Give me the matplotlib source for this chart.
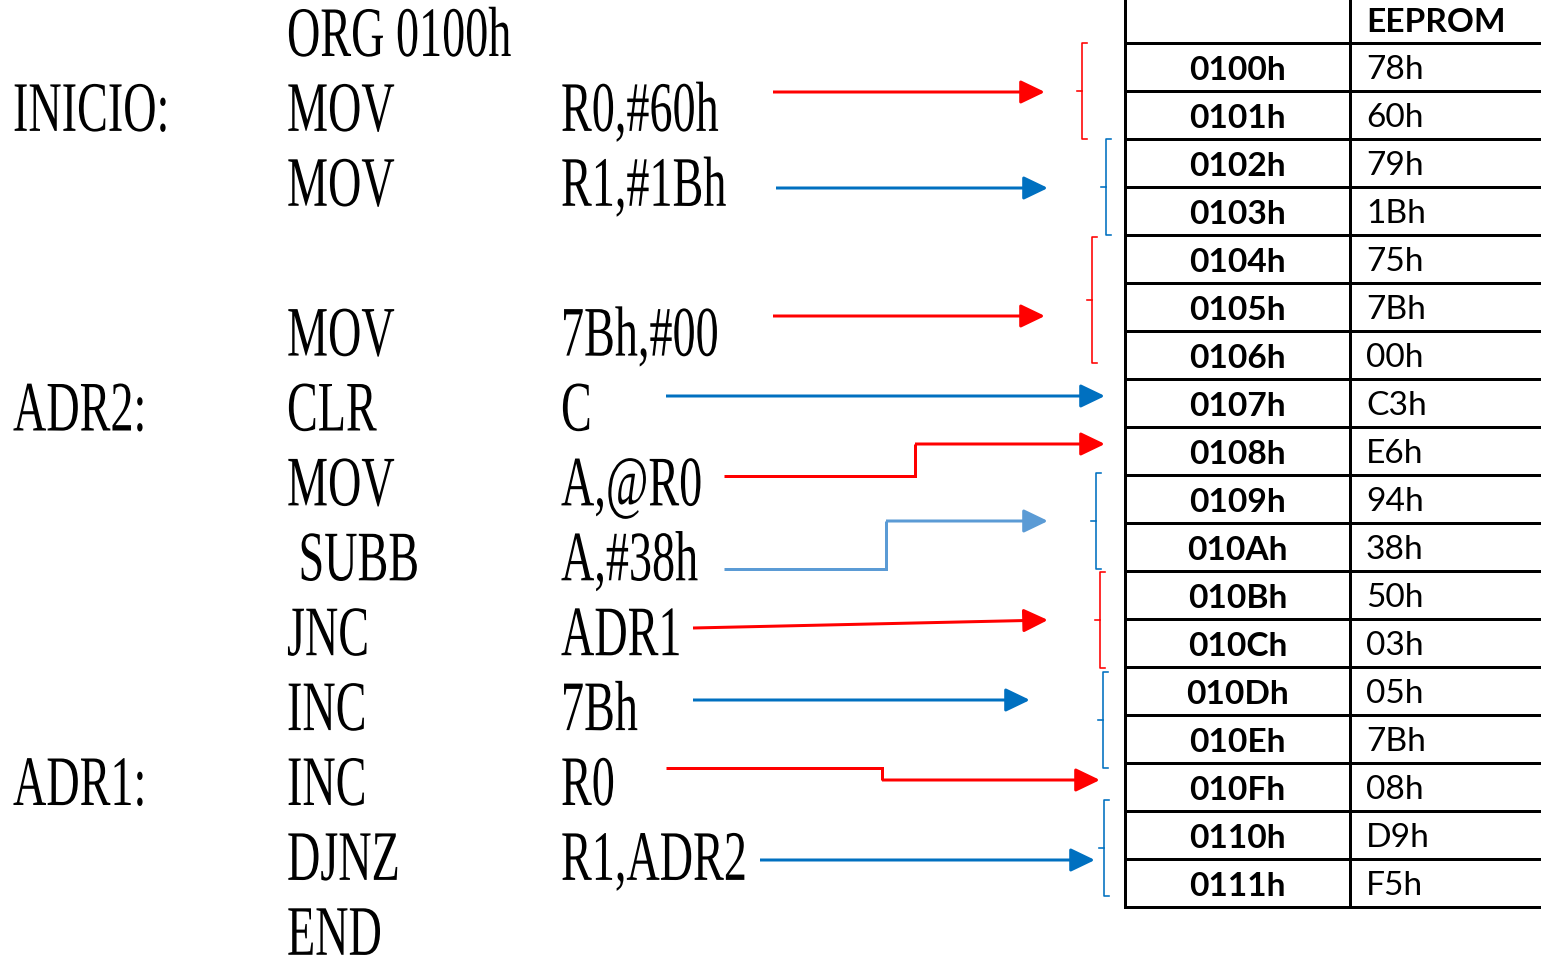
import matplotlib
matplotlib.use('Agg')
import matplotlib.pyplot as plt
from matplotlib import patheffects
from matplotlib.transforms import Affine2D
from matplotlib.patches import FancyArrowPatch

# ---------------- data ----------------
labels = ['', 'INICIO:', '', '', '', 'ADR2:', '', '', '', '', 'ADR1:', '', '']
mnemonics = ['ORG 0100h', 'MOV', 'MOV', '', 'MOV', 'CLR', 'MOV', ' SUBB',
             'JNC', 'INC', 'INC', 'DJNZ', 'END']
operands = ['', 'R0,#60h', 'R1,#1Bh', '', '7Bh,#00', 'C', 'A,@R0', 'A,#38h',
            'ADR1', '7Bh', 'R0', 'R1,ADR2', '']
header = ['', 'EEPROM']
addresses = ['0100h', '0101h', '0102h', '0103h', '0104h', '0105h', '0106h',
             '0107h', '0108h', '0109h', '010Ah', '010Bh', '010Ch', '010Dh',
             '010Eh', '010Fh', '0110h', '0111h']
eeprom = ['78h', '60h', '79h', '1Bh', '75h', '7Bh', '00h', 'C3h', 'E6h',
          '94h', '38h', '50h', '03h', '05h', '7Bh', '08h', 'D9h', 'F5h']

# ---------------- geometry / style ----------------
RED = '#FF0000'
BLUE = '#0070C0'
LBLUE = '#5B9BD5'

arrow_colors = [RED, BLUE, RED, BLUE, RED, LBLUE, RED, BLUE, RED, BLUE]
arrow_paths = [
    [(773, 92), (1045, 92)],
    [(776, 188), (1048, 188)],
    [(773, 316), (1045, 316)],
    [(666, 396), (1105, 396)],
    [(724, 476), (915, 476), (915, 444), (1105, 444)],
    [(724, 569), (886, 569), (886, 521), (1048, 521)],
    [(693, 628), (1048, 620)],
    [(693, 700), (1030, 700)],
    [(666, 768), (882, 768), (882, 780), (1100, 780)],
    [(760, 860), (1095, 860)],
]
bracket_x = [1082, 1106, 1092, 1096, 1100, 1103, 1104]
bracket_y0 = [43, 139, 237, 473, 572, 672, 800]
bracket_y1 = [139, 235, 363, 569, 668, 768, 896]
bracket_colors = [RED, BLUE, RED, BLUE, RED, BLUE, BLUE]

W, H = 1541, 957
DPI = 100
PX = 72.0 / DPI  # points per pixel


class Condense(patheffects.AbstractPathEffect):
    """Draw text glyphs horizontally condensed (like a narrow Times)."""
    def __init__(self, sx):
        super().__init__()
        self.sx = sx

    def draw_path(self, renderer, gc, tpath, affine, rgbFace=None):
        renderer.draw_path(gc, tpath, Affine2D().scale(self.sx, 1.0) + affine, rgbFace)


fig = plt.figure(figsize=(W / DPI, H / DPI), dpi=DPI)
ax = fig.add_axes([0, 0, 1, 1])
ax.set_xlim(0, W)
ax.set_ylim(H, 0)
ax.axis('off')

# ---------------- code listing ----------------
code_font = dict(family='Liberation Serif', fontsize=71 * PX, color='black',
                 va='baseline', ha='left',
                 path_effects=[Condense(0.65)])
x_label, x_mnem, x_oper = 13, 287, 561
for i, (lab, mn, op) in enumerate(zip(labels, mnemonics, operands)):
    yb = 56 + 74.9 * i
    if lab:
        ax.text(x_label, yb, lab, **code_font)
    if mn:
        ax.text(x_mnem, yb, mn, **code_font)
    if op:
        ax.text(x_oper, yb, op, **code_font)

# ---------------- table ----------------
x_left, x_mid, x_right = 1125, 1350, W
row_top, row_h = 43, 48
n = len(addresses)
lw_tab = 3 * PX
for k in range(n + 1):
    y = row_top + row_h * k
    ax.plot([x_left, x_right], [y, y], color='black', lw=lw_tab, solid_capstyle='butt')
y_bottom = row_top + row_h * n
ax.plot([x_left, x_left], [0, y_bottom], color='black', lw=lw_tab)
ax.plot([x_mid, x_mid], [0, y_bottom], color='black', lw=lw_tab)

tab_size = 33.5 * PX
ax.text(1366, 23, header[1], family='Lato', fontweight='bold', fontsize=tab_size,
        ha='left', va='center')
for i, (a, v) in enumerate(zip(addresses, eeprom)):
    yc = row_top + row_h * i + row_h / 2 + 3
    ax.text((x_left + x_mid) / 2, yc, a, family='Lato', fontweight='bold',
            fontsize=tab_size, ha='center', va='center')
    ax.text(1366, yc, v, family='Lato', fontsize=tab_size, ha='left', va='center')

# ---------------- brackets ----------------
for x, y0, y1, c in zip(bracket_x, bracket_y0, bracket_y1, bracket_colors):
    ym = (y0 + y1) / 2
    ax.plot([x + 5, x, x, x + 5], [y0, y0, y1, y1], color=c, lw=1.6 * PX)
    ax.plot([x - 5, x], [ym, ym], color=c, lw=1.6 * PX)

# ---------------- arrows ----------------
lw_arr = 3 * PX
for c, pts in zip(arrow_colors, arrow_paths):
    xs = [p[0] for p in pts]
    ys = [p[1] for p in pts]
    if len(pts) > 2:
        ax.plot(xs[:-1], ys[:-1], color=c, lw=lw_arr, solid_joinstyle='miter',
                solid_capstyle='butt')
    arr = FancyArrowPatch(pts[-2], pts[-1],
                          arrowstyle='-|>,head_length=0.75,head_width=0.36',
                          mutation_scale=20, color=c, lw=lw_arr,
                          shrinkA=0, shrinkB=0, capstyle='butt')
    ax.add_patch(arr)

fig.savefig('out.png', dpi=DPI)
